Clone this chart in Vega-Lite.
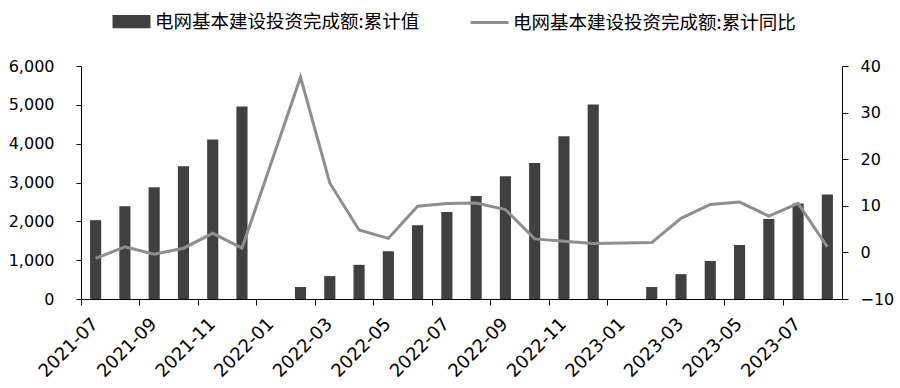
{
  "$schema": "https://vega.github.io/schema/vega-lite/v6.json",
  "width": 761,
  "height": 233,
  "autosize": {"type": "none"},
  "padding": {"left": 81, "top": 66, "right": 58, "bottom": 89},
  "background": "white",
  "config": {
    "view": {"stroke": null},
    "font": "DejaVu Sans",
    "axis": {"grid": false, "domainColor": "#000000", "tickColor": "#000000", "labelColor": "#000000", "labelFont": "DejaVu Sans", "labelFontSize": 16, "title": null}
  },
  "data": {
    "values": [
      {"month": "2021-07", "value": 2030, "yoy": -1.3},
      {"month": "2021-08", "value": 2390, "yoy": 1.2},
      {"month": "2021-09", "value": 2880, "yoy": -0.4},
      {"month": "2021-10", "value": 3420, "yoy": 0.9},
      {"month": "2021-11", "value": 4110, "yoy": 4.1},
      {"month": "2021-12", "value": 4960, "yoy": 0.9},
      {"month": "2022-01", "value": null, "yoy": null},
      {"month": "2022-02", "value": 310, "yoy": 37.6},
      {"month": "2022-03", "value": 590, "yoy": 14.9},
      {"month": "2022-04", "value": 880, "yoy": 4.8},
      {"month": "2022-05", "value": 1230, "yoy": 3.0},
      {"month": "2022-06", "value": 1900, "yoy": 9.9},
      {"month": "2022-07", "value": 2240, "yoy": 10.5},
      {"month": "2022-08", "value": 2650, "yoy": 10.6},
      {"month": "2022-09", "value": 3160, "yoy": 9.2},
      {"month": "2022-10", "value": 3500, "yoy": 2.9},
      {"month": "2022-11", "value": 4190, "yoy": 2.4},
      {"month": "2022-12", "value": 5010, "yoy": 1.9},
      {"month": "2023-01", "value": null, "yoy": null},
      {"month": "2023-02", "value": 310, "yoy": 2.1},
      {"month": "2023-03", "value": 640, "yoy": 7.3},
      {"month": "2023-04", "value": 980, "yoy": 10.3},
      {"month": "2023-05", "value": 1390, "yoy": 10.8},
      {"month": "2023-06", "value": 2060, "yoy": 7.8},
      {"month": "2023-07", "value": 2460, "yoy": 10.5},
      {"month": "2023-08", "value": 2690, "yoy": 1.2}
    ]
  },
  "encoding": {
    "x": {
      "field": "month",
      "type": "ordinal",
      "scale": {
        "type": "band",
        "paddingInner": 0,
        "paddingOuter": 0,
        "domain": ["2021-07", "2021-08", "2021-09", "2021-10", "2021-11", "2021-12", "2022-01", "2022-02", "2022-03", "2022-04", "2022-05", "2022-06", "2022-07", "2022-08", "2022-09", "2022-10", "2022-11", "2022-12", "2023-01", "2023-02", "2023-03", "2023-04", "2023-05", "2023-06", "2023-07", "2023-08"]
      },
      "axis": {
        "values": ["2021-07", "2021-09", "2021-11", "2022-01", "2022-03", "2022-05", "2022-07", "2022-09", "2022-11", "2023-01", "2023-03", "2023-05", "2023-07"],
        "bandPosition": 0,
        "labelAngle": -45,
        "labelAlign": "right",
        "labelBaseline": "middle",
        "labelPadding": 16,
        "labelFontSize": 18,
        "tickSize": 6,
        "labelOverlap": false
      }
    }
  },
  "layer": [
    {
      "mark": {"type": "bar", "width": {"band": 0.38}},
      "encoding": {
        "y": {
          "field": "value",
          "type": "quantitative",
          "scale": {"domain": [0, 6000], "nice": false, "zero": true},
          "axis": {"orient": "left", "values": [0, 1000, 2000, 3000, 4000, 5000, 6000], "format": ",d", "tickSize": 5, "labelPadding": 22}
        },
        "color": {
          "datum": "电网基本建设投资完成额:累计值",
          "type": "nominal",
          "scale": {"domain": ["电网基本建设投资完成额:累计值", "电网基本建设投资完成额:累计同比"], "range": ["#404040", "#8e8e8e"]},
          "legend": {
            "title": null,
            "orient": "none",
            "direction": "horizontal",
            "legendX": 30,
            "legendY": -65,
            "labelFont": "Noto Sans CJK SC",
            "labelFontSize": 18.5,
            "labelColor": "#000000",
            "labelLimit": 400,
            "labelOffset": 3,
            "columnPadding": 44,
            "symbolSize": 1444,
            "encode": {
              "symbols": {
                "update": {
                  "shape": {"signal": "datum.index === 0 ? 'M-0.92,-0.27H0.92V0.27H-0.92Z' : 'stroke'"},
                  "fill": {"signal": "datum.index === 0 ? '#404040' : 'transparent'"},
                  "stroke": {"signal": "datum.index === 0 ? '#404040' : '#8e8e8e'"},
                  "strokeWidth": {"value": 3},
                  "size": {"value": 1444},
                  "opacity": {"value": 1}
                }
              }
            }
          }
        }
      }
    },
    {
      "transform": [{"filter": "datum.yoy != null"}],
      "mark": {"type": "line", "strokeWidth": 3},
      "encoding": {
        "y": {
          "field": "yoy",
          "type": "quantitative",
          "scale": {"domain": [-10, 40], "nice": false, "zero": false},
          "axis": {"orient": "right", "values": [-10, 0, 10, 20, 30, 40], "tickSize": 6, "labelPadding": 12}
        },
        "color": {"datum": "电网基本建设投资完成额:累计同比", "type": "nominal"}
      }
    }
  ],
  "resolve": {"scale": {"y": "independent"}}
}
